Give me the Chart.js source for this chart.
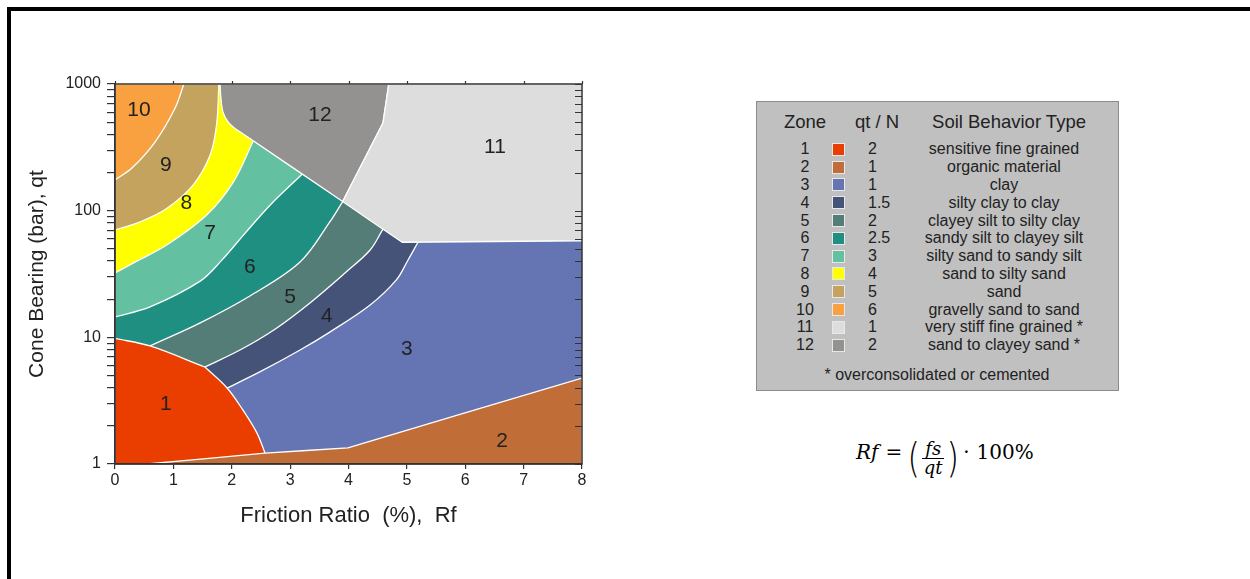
<!DOCTYPE html>
<html>
<head>
<meta charset="utf-8">
<script src="https://cdn.jsdelivr.net/npm/chart.js@4.4.1/dist/chart.umd.min.js"></script>
<style>
  html, body { margin: 0; padding: 0; background: #fff; width: 1250px; height: 579px; overflow: hidden;
               font-family: "Liberation Sans", Arial, sans-serif; color: #222; }
  #frame { position: absolute; left: 7px; top: 7px; width: 1400px; height: 700px;
           border-left: 4px solid #000; border-top: 4px solid #000; }
  #chartBox { position: absolute; left: 0; top: 0; width: 620px; height: 560px; }
  #legend { position: absolute; left: 756px; top: 101px; width: 361px; height: 288px;
            background: #c0c0c0; border: 1px solid #8c8c8c; }
  #legend div { position: absolute; white-space: nowrap; line-height: 18px; }
  .hd { font-size: 18.5px; transform: translateX(-50%); }
  .ctr { font-size: 16px; transform: translateX(-50%); }
  .lft { font-size: 16px; }
  .sw { width: 11px; height: 11px; border: 1px solid #e8e8e8; }
  #formula { position: absolute; left: 856px; top: 426px; height: 52px; display: flex; align-items: center;
             font-family: "DejaVu Serif", serif; font-size: 20px; color: #000; }
  #formula .it { font-style: italic; }
  #formula .eq { margin: 0 6px 0 7px; }
  #formula .dot { margin: 0 7px 0 5px; }
  #formula .grp { display: flex; align-items: center; position: relative; top: 6px; }
  #formula .paren { font-family: "DejaVu Sans", sans-serif; font-weight: 200; font-size: 40px; line-height: 40px;
                    transform: scaleX(0.8); margin: 0 -2px; }
  #formula .frac { display: inline-flex; flex-direction: column; align-items: center; margin: 0 1px; }
  #formula .frac span { line-height: 16px; padding: 0 3px; font-size: 18px; }
  #formula .frac .num { border-bottom: 1.3px solid #000; padding-bottom: 1px; }
  #formula .frac .den { padding-top: 1px; }
</style>
</head>
<body>
<div id="frame"></div>
<div id="chartBox"><canvas id="sbt" width="620" height="560"></canvas></div>
<div id="legend"></div>
<div id="formula">
  <span class="it">Rf</span><span class="eq">=</span>
  <span class="grp">
    <span class="paren">(</span>
    <span class="frac"><span class="it num">fs</span><span class="it den">qt</span></span>
    <span class="paren">)</span>
  </span>
  <span class="dot">·</span><span>100%</span>
</div>
<script>
// Zone table
const zoneIds = ['1', '2', '3', '4', '5', '6', '7', '8', '9', '10', '11', '12'];
const qtOverN = ['2', '1', '1', '1.5', '2', '2.5', '3', '4', '5', '6', '1', '2'];
const soilTypes = ['sensitive fine grained', 'organic material', 'clay', 'silty clay to clay',
    'clayey silt to silty clay', 'sandy silt to clayey silt', 'silty sand to sandy silt',
    'sand to silty sand', 'sand', 'gravelly sand to sand', 'very stiff fine grained *',
    'sand to clayey sand *'];
const zoneColors = ['#ea3d00', '#c06d38', '#6574b3', '#465378', '#557d78', '#1f8f82',
    '#63c1a2', '#ffff00', '#c4a35f', '#f9a041', '#dddddd', '#949290'];

// Axis ranges and ticks
const rfMin = 0, rfMax = 8;
const qtMin = 1, qtMax = 1000;
const xTickValues = [0, 1, 2, 3, 4, 5, 6, 7, 8];
const yTickValues = [1, 2, 3, 4, 5, 6, 7, 8, 9, 10, 20, 30, 40, 50, 60, 70, 80, 90,
    100, 200, 300, 400, 500, 600, 700, 800, 900, 1000];
const yLabelled = [1, 10, 100, 1000];

// Zone boundaries, as [Rf %, qt bar]
const edge10 = [[0, 175], [0.29, 217], [0.685, 348], [1.03, 647], [1.18, 1000]];
const edge9 = [[0, 70.4], [0.43, 81.6], [0.885, 104], [1.34, 160], [1.63, 275], [1.74, 475], [1.78, 1000]];
const edge8 = [[0, 32.2], [0.31, 38.5], [0.885, 53.6], [1.57, 92.5], [2.03, 169], [2.37, 356]];
const edge7 = [[0, 14.5], [0.60, 17.4], [1.46, 27.8], [1.83, 40.7], [2.23, 66.5], [2.66, 111], [3.20, 193]];
const edge6 = [[0.60, 8.55], [1.46, 13.0], [2.31, 21.2], [3.17, 39.3], [3.68, 81.5], [3.90, 118]];
const edge5 = [[1.54, 5.83], [2.14, 7.94], [2.74, 11.6], [3.34, 18.7], [3.94, 32.2], [4.37, 48.9], [4.59, 71.5]];
const edge4 = [[1.92, 3.98], [2.48, 5.33], [3.17, 7.94], [3.68, 11.0], [4.37, 18.0], [4.82, 28.4], [5.02, 40.8], [5.19, 56.3]];
const zone1Top = [[0, 9.8], [0.60, 8.55], [1.54, 5.83]];
const zone1Side = [[1.54, 5.83], [1.92, 3.98], [2.19, 2.67], [2.43, 1.76], [2.57, 1.22]];
const zone2Top = [[0.55, 1], [2.57, 1.22], [3.99, 1.34], [8, 4.77]];
const zone11Edge = [[4.69, 1000], [4.59, 492], [3.90, 118], [4.92, 56.3], [8, 57.9]];
const zone12Side = [[2.14, 420], [2.06, 443], [1.94, 501], [1.85, 600], [1.81, 819], [1.80, 1000]];

// Where the zone numbers sit inside the chart
const labelRf = [0.87, 6.63, 5.00, 3.63, 3.00, 2.31, 1.63, 1.22, 0.87, 0.41, 6.51, 3.51];
const labelQt = [2.98, 1.52, 8.09, 14.7, 20.8, 35.9, 66.6, 115, 230, 623, 318, 569];

const FONT = '"Liberation Sans", Arial, sans-serif';

// a run is smooth inside, its ends are corners (doubled points keep the spline sharp there)
function outline(runs) {
    const out = [];
    runs.forEach(run => {
        out.push(run[0]);
        run.forEach(p => out.push(p));
        out.push(run[run.length - 1]);
    });
    out.push(runs[0][0], runs[0][0]);
    return out.map(p => ({ x: p[0], y: p[1] }));
}
const corner = p => [p];

// each outer zone is filled as everything up-left of its lower edge, the next one goes on top
const layers = [
    { zone: 3, line: 0, runs: [corner([rfMin, qtMin]), corner([rfMax, qtMin]), corner([rfMax, qtMax]), corner([rfMin, qtMax])] },
    { zone: 4, runs: [edge4, corner([5.19, qtMax]), corner([rfMin, qtMax]), corner([rfMin, qtMin])] },
    { zone: 5, runs: [edge5, corner([4.59, qtMax]), corner([rfMin, qtMax]), corner([rfMin, qtMin])] },
    { zone: 6, runs: [edge6, corner([3.90, qtMax]), corner([rfMin, qtMax]), corner([rfMin, qtMin])] },
    { zone: 7, runs: [edge7, corner([3.20, qtMax]), corner([rfMin, qtMax])] },
    { zone: 8, runs: [edge8, corner([2.37, qtMax]), corner([rfMin, qtMax])] },
    { zone: 9, runs: [edge9, corner([rfMin, qtMax])] },
    { zone: 10, runs: [edge10, corner([rfMin, qtMax])] },
    { zone: 12, runs: [corner([1.80, qtMax]), corner(zone11Edge[0]), corner(zone11Edge[1]), corner(zone11Edge[2]), zone12Side] },
    { zone: 11, runs: zone11Edge.map(corner).concat([corner([rfMax, qtMax])]) },
    { zone: 1, runs: [zone1Top, zone1Side, corner([2.57, qtMin]), corner([rfMin, qtMin])] },
    { zone: 2, runs: zone2Top.map(corner).concat([corner([rfMax, qtMin])]) }
];

const datasets = layers.map((l, i) => ({
    label: 'Zone ' + l.zone,
    data: outline(l.runs),
    backgroundColor: zoneColors[l.zone - 1],
    borderColor: '#ffffff',
    borderWidth: l.line === 0 ? 0 : 1.3,
    borderJoinStyle: 'round',
    pointRadius: 0,
    tension: 0.35,
    fill: 'shape',
    clip: 0,
    order: layers.length - i // first layer painted first
}));

// frame, inward right ticks, top ticks, zone numbers
const framePlugin = {
    id: 'frame',
    afterDraw(chart) {
        const { ctx, chartArea: a, scales: { x, y } } = chart;
        ctx.save();
        ctx.strokeStyle = '#333';
        ctx.lineWidth = 1.5;
        ctx.strokeRect(a.left, a.top, a.right - a.left, a.bottom - a.top);
        ctx.lineWidth = 1.2;
        ctx.beginPath();
        yTickValues.forEach(v => {
            const py = Math.round(y.getPixelForValue(v)) + 0.5;
            ctx.moveTo(a.right - 7, py);
            ctx.lineTo(a.right, py);
        });
        xTickValues.forEach(v => {
            const px = Math.round(x.getPixelForValue(v)) + 0.5;
            ctx.moveTo(px, a.top);
            ctx.lineTo(px, a.top - 3);
        });
        ctx.stroke();
        ctx.fillStyle = '#222';
        ctx.font = '21px ' + FONT;
        ctx.textAlign = 'center';
        ctx.textBaseline = 'middle';
        zoneIds.forEach((z, i) => {
            ctx.fillText(z, x.getPixelForValue(labelRf[i]), y.getPixelForValue(labelQt[i]));
        });
        ctx.restore();
    }
};

new Chart(document.getElementById('sbt'), {
    type: 'line',
    data: { datasets: datasets },
    options: {
        responsive: false,
        animation: false,
        events: [],
        devicePixelRatio: 1,
        layout: { padding: { left: 0, top: 84, right: 38, bottom: 26 } },
        plugins: { legend: { display: false }, tooltip: { enabled: false } },
        scales: {
            x: {
                type: 'linear', min: rfMin, max: rfMax,
                afterBuildTicks: s => { s.ticks = xTickValues.map(v => ({ value: v })); },
                afterFit: s => { s.height = 70; },
                ticks: { font: { size: 16, family: FONT }, color: '#222', padding: 2, autoSkip: false, maxRotation: 0 },
                grid: { drawOnChartArea: false, drawTicks: true, tickLength: 5, tickColor: '#333', lineWidth: 1.2 },
                border: { display: true, color: '#333', width: 1.5, z: 1 },
                title: { display: true, text: 'Friction Ratio  (%),  Rf', color: '#222',
                         font: { size: 22, family: FONT }, padding: { top: 0, bottom: 5 } }
            },
            y: {
                type: 'logarithmic', min: qtMin, max: qtMax,
                afterBuildTicks: s => { s.ticks = yTickValues.map(v => ({ value: v })); },
                afterFit: s => { s.width = 115; },
                ticks: {
                    font: { size: 16, family: FONT }, color: '#222', padding: 6, autoSkip: false,
                    callback: v => yLabelled.includes(v) ? String(v) : ''
                },
                grid: { drawOnChartArea: false, drawTicks: true, tickLength: 8, tickColor: '#333', lineWidth: 1.2 },
                border: { display: true, color: '#333', width: 1.5, z: 1 },
                title: { display: true, text: 'Cone Bearing (bar), qt', color: '#222',
                         font: { size: 21, family: FONT }, padding: { top: 25, bottom: 0 } }
            }
        }
    },
    plugins: [framePlugin]
});

// Zone table beside the chart
const legend = document.getElementById('legend');
function addCell(cls, text, left, top) {
    const d = document.createElement('div');
    d.className = cls;
    d.textContent = text;
    d.style.left = left + 'px';
    d.style.top = top + 'px';
    legend.appendChild(d);
    return d;
}
addCell('hd', 'Zone', 48, 11);
addCell('hd', 'qt / N', 120, 11);
addCell('hd', 'Soil Behavior Type', 252, 11);
zoneIds.forEach((z, i) => {
    const cy = 47.3 + i * 17.8;
    addCell('ctr', z, 48, cy - 9);
    const sw = addCell('sw', '', 75, cy - 6.5);
    sw.style.background = zoneColors[i];
    addCell('lft', qtOverN[i], 111, cy - 9);
    addCell('ctr', soilTypes[i], 247, cy - 9);
});
addCell('ctr', '* overconsolidated or cemented', 180, 264);
</script>
</body>
</html>
